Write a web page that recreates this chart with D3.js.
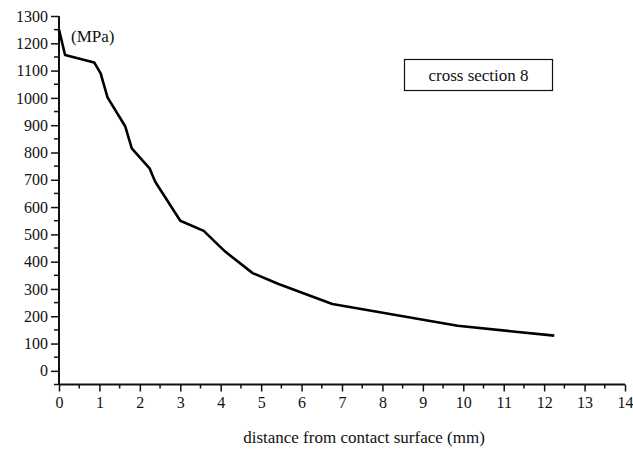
<!DOCTYPE html>
<html>
<head>
<meta charset="utf-8">
<script src="https://cdn.jsdelivr.net/npm/d3@7"></script>
<style>
  html, body { margin: 0; padding: 0; background: #fff; }
</style>
</head>
<body>
<svg id="chart" width="633" height="451" font-family="Liberation Serif">
  <text x="-100" y="-100" font-family="Liberation Serif" font-size="16">0</text>
</svg>
<script>
// Stress profile along cross section 8
const distance = [0, 0.15, 0.87, 1.03, 1.2, 1.64, 1.8, 2.24, 2.38, 3.0, 3.58, 4.11, 4.79, 5.43, 6.76, 9.86, 12.25];
const stress   = [1250, 1157, 1130, 1090, 1002, 895, 815, 742, 693, 550, 513, 437, 358, 318, 245, 165, 129];

const xTicks = d3.range(0, 15, 1);
const yTicks = d3.range(0, 1301, 100);
const xMinor = d3.range(0.5, 14, 1);
const yMinor = d3.range(-50, 1300, 100);

const xTitle = "distance from contact surface (mm)";
const unitLabel = "(MPa)";
const boxLabel = "cross section 8";

const FONT = "Liberation Serif";

const svg = d3.select("#chart");
const plotLeft = 59, plotRight = 625, plotTop = 16, plotBottom = 384.5;

const x = d3.scaleLinear().domain([0, 14]).range([plotLeft, plotRight]);
const y = d3.scaleLinear().domain([-50, 1300]).range([plotBottom, plotTop]);

// x axis
const gx = svg.append("g").attr("transform", `translate(0,${plotBottom})`);
gx.call(d3.axisBottom(x).tickValues(xTicks).tickFormat(d3.format("d")).tickSize(7).tickPadding(5));
gx.append("g").selectAll("line").data(xMinor).join("line")
  .attr("x1", d => x(d)).attr("x2", d => x(d)).attr("y1", 0).attr("y2", 4)
  .attr("stroke", "#111").attr("stroke-width", 1.5);

// y axis
const gy = svg.append("g").attr("transform", `translate(${plotLeft},0)`);
gy.call(d3.axisLeft(y).tickValues(yTicks).tickFormat(d3.format("d")).tickSize(8).tickPadding(3));
gy.append("g").selectAll("line").data(yMinor).join("line")
  .attr("x1", 0).attr("x2", -5).attr("y1", d => y(d)).attr("y2", d => y(d))
  .attr("stroke", "#111").attr("stroke-width", 1.5);

[gx, gy].forEach(g => {
  g.attr("font-family", FONT).attr("font-size", 16);
  g.select(".domain").attr("stroke", "#111").attr("stroke-width", 2);
  g.selectAll(".tick line").attr("stroke", "#111").attr("stroke-width", 1.5);
  g.selectAll(".tick text").attr("fill", "#111").attr("font-family", FONT).attr("font-size", 16);
});
gx.select(".domain").attr("d", `M${plotLeft},0H${plotRight}`);
gy.select(".domain").attr("d", `M0,${plotTop}V${plotBottom}`);

// curve
const line = d3.line().x((d, i) => x(distance[i])).y(d => y(d));
svg.append("path")
  .datum(stress)
  .attr("d", line)
  .attr("fill", "none")
  .attr("stroke", "#000")
  .attr("stroke-width", 2.6)
  .attr("stroke-linejoin", "round");

// labels
function label(px, py, txt, anchor) {
  return svg.append("text")
    .attr("x", px).attr("y", py)
    .attr("font-family", FONT)
    .attr("font-size", 17)
    .attr("fill", "#111")
    .attr("text-anchor", anchor)
    .text(txt);
}
label(71, 42, unitLabel, "start");
label(364, 443, xTitle, "middle");

svg.append("rect").attr("x", 404.5).attr("y", 59.5).attr("width", 148).attr("height", 31)
  .attr("fill", "none").attr("stroke", "#111").attr("stroke-width", 1.2);
label(478.5, 81, boxLabel, "middle");

// re-apply the serif face once the font set is ready
if (document.fonts && document.fonts.load) {
  document.fonts.load("16px 'Liberation Serif'").then(() => {
    svg.selectAll("text").attr("font-family", FONT);
  });
}
</script>
</body>
</html>
